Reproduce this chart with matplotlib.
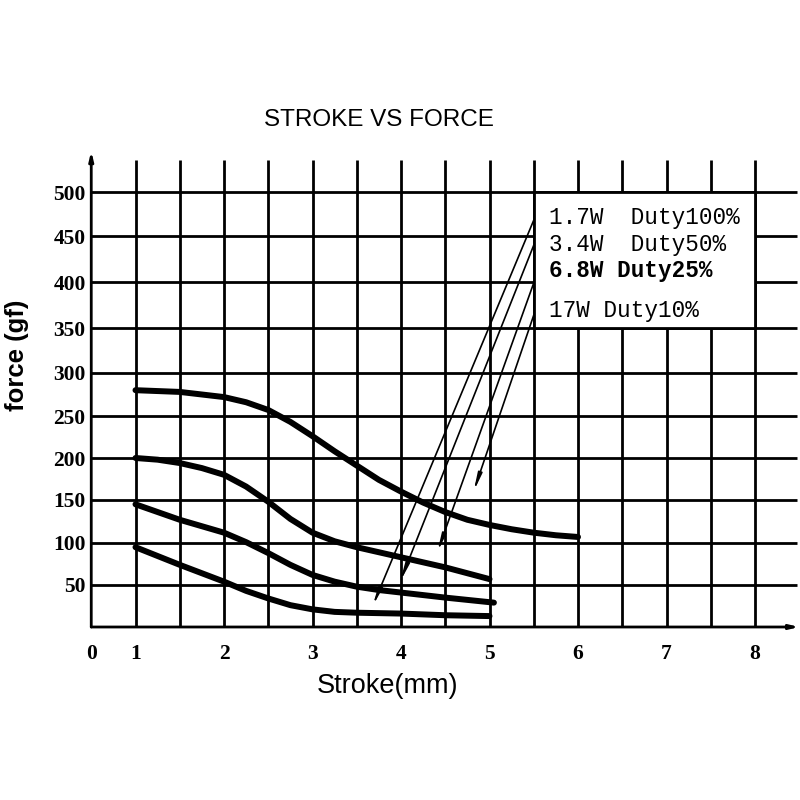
import matplotlib
matplotlib.use("Agg")
import matplotlib.pyplot as plt
import numpy as np

# ---- data ----
labels = ["1.7W  Duty100%", "3.4W  Duty50%", "6.8W Duty25%", "17W Duty10%"]
label_bold = [False, False, True, False]

x_17w = [1, 1.5, 2, 2.25, 2.5, 2.75, 3, 3.25, 3.5, 3.75, 4, 4.25, 4.5, 4.75, 5, 5.25, 5.5, 5.75, 6]
y_17w = [280, 278, 272, 266, 257, 243, 226, 208, 191, 174, 160, 147, 136, 127, 121, 116, 112, 109, 107]

x_68w = [1, 1.25, 1.5, 1.75, 2, 2.25, 2.5, 2.75, 3, 3.25, 3.5, 3.75, 4, 4.5, 5]
y_68w = [200, 198, 194, 188, 180, 166, 148, 128, 112, 102, 95, 89, 83, 71, 57]

x_34w = [1, 1.5, 2, 2.25, 2.5, 2.75, 3, 3.25, 3.5, 3.75, 4, 4.5, 5.05]
y_34w = [145, 127, 112, 101, 88, 74, 62, 54, 48, 44, 41, 35, 29]

x_17 = [1, 1.5, 2, 2.25, 2.5, 2.75, 3, 3.25, 3.5, 4, 4.5, 5]
y_17 = [95, 74, 54, 43, 34, 26, 21, 18, 17, 16, 14, 13]

# arrows from legend entries toward curves
arrow_start_y = [468, 440, 399, 364]
arrow_end_x = [3.68, 3.99, 4.41, 4.82]
arrow_end_y = [25, 54, 89, 160]

xtick_pos = [0.5, 1, 2, 3, 4, 5, 6, 7, 8]
xtick_lab = ["0", "1", "2", "3", "4", "5", "6", "7", "8"]
ytick_pos = [50, 100, 150, 200, 250, 300, 350, 400, 450, 500]

# hand-drawn (slightly uneven) value scale of the original grid
scale_vals = [0, 50, 100, 150, 200, 250, 300, 350, 400, 450, 500, 545]
scale_pos = [0, 42, 84, 127, 169, 211, 254, 299, 345, 391, 435, 476]


def fwd(v):
    return np.interp(v, scale_vals, scale_pos, left=-1e9, right=1e9)


def inv(p):
    return np.interp(p, scale_pos, scale_vals)


# ---- figure ----
fig = plt.figure(figsize=(8, 8), dpi=100)
ax = fig.add_axes([91.25 / 800, 1 - 627 / 800, 708 / 800, 476 / 800])
ax.set_yscale("function", functions=(fwd, inv))
ax.set_xlim(0.5, 8.5)
ax.set_ylim(0, 545)
for s in ax.spines.values():
    s.set_visible(False)

grid_lw = 2.0
xs = [1 + 0.5 * i for i in range(15)]
ax.vlines(xs, 0, 535, color="black", lw=grid_lw, zorder=1)
ax.hlines(ytick_pos, 0.5, 8.47, color="black", lw=grid_lw, zorder=1)
ax.annotate("", xy=(0.5, 545), xytext=(0.5, 0),
            arrowprops=dict(arrowstyle="-|>,head_length=0.5,head_width=0.12", lw=grid_lw, color="black",
                            shrinkA=0, shrinkB=0), zorder=2)
ax.annotate("", xy=(8.5, 0), xytext=(0.5, 0),
            arrowprops=dict(arrowstyle="-|>,head_length=0.5,head_width=0.12", lw=grid_lw, color="black",
                            shrinkA=0, shrinkB=0), zorder=2)

ax.add_patch(plt.Rectangle((5.5, 350), 2.5, 150, facecolor="white", edgecolor="black",
                           lw=grid_lw, zorder=3))

for xx, yy in [(x_17w, y_17w), (x_68w, y_68w), (x_34w, y_34w), (x_17, y_17)]:
    ax.plot(xx, yy, color="black", lw=4.3, solid_capstyle="round", solid_joinstyle="round", zorder=4)

for sy, ex, ey in zip(arrow_start_y, arrow_end_x, arrow_end_y):
    ax.annotate("", xy=(ex, ey), xytext=(5.5, sy),
                arrowprops=dict(arrowstyle="-|>,head_length=1.0,head_width=0.12", lw=1.2,
                                color="black", shrinkA=0, shrinkB=0), zorder=5)

text_y = [471, 441, 412, 369]
for lab, ty, b in zip(labels, text_y, label_bold):
    ax.text(5.67, ty, lab, family="Liberation Mono", fontsize=16.3,
            fontweight="bold" if b else "normal", va="center", ha="left", zorder=6)

ax.set_xticks(xtick_pos)
ax.set_xticklabels(xtick_lab)
ax.set_yticks(ytick_pos)
ax.set_yticklabels([str(v) for v in ytick_pos])
ax.yaxis.set_minor_locator(matplotlib.ticker.NullLocator())
ax.tick_params(axis="both", which="both", length=0)
ax.tick_params(axis="x", pad=12)
ax.tick_params(axis="y", pad=4)
for t in ax.get_xticklabels() + ax.get_yticklabels():
    t.set_family("Liberation Serif")
    t.set_fontweight("bold")
    t.set_fontsize(15.5)

fig.text(379 / 800, 1 - 120 / 800, "STROKE VS FORCE", family="Liberation Sans",
         fontsize=17.5, ha="center", va="center")
fig.text(388 / 800, 1 - 686 / 800, "Stroke(mm)", family="Liberation Sans",
         fontsize=19.5, ha="center", va="center")
fig.text(17 / 800, 1 - 355 / 800, "force (gf)", family="Liberation Sans",
         fontsize=18.5, fontweight="bold", ha="center", va="center", rotation=90)

fig.savefig("out.png", dpi=100)
